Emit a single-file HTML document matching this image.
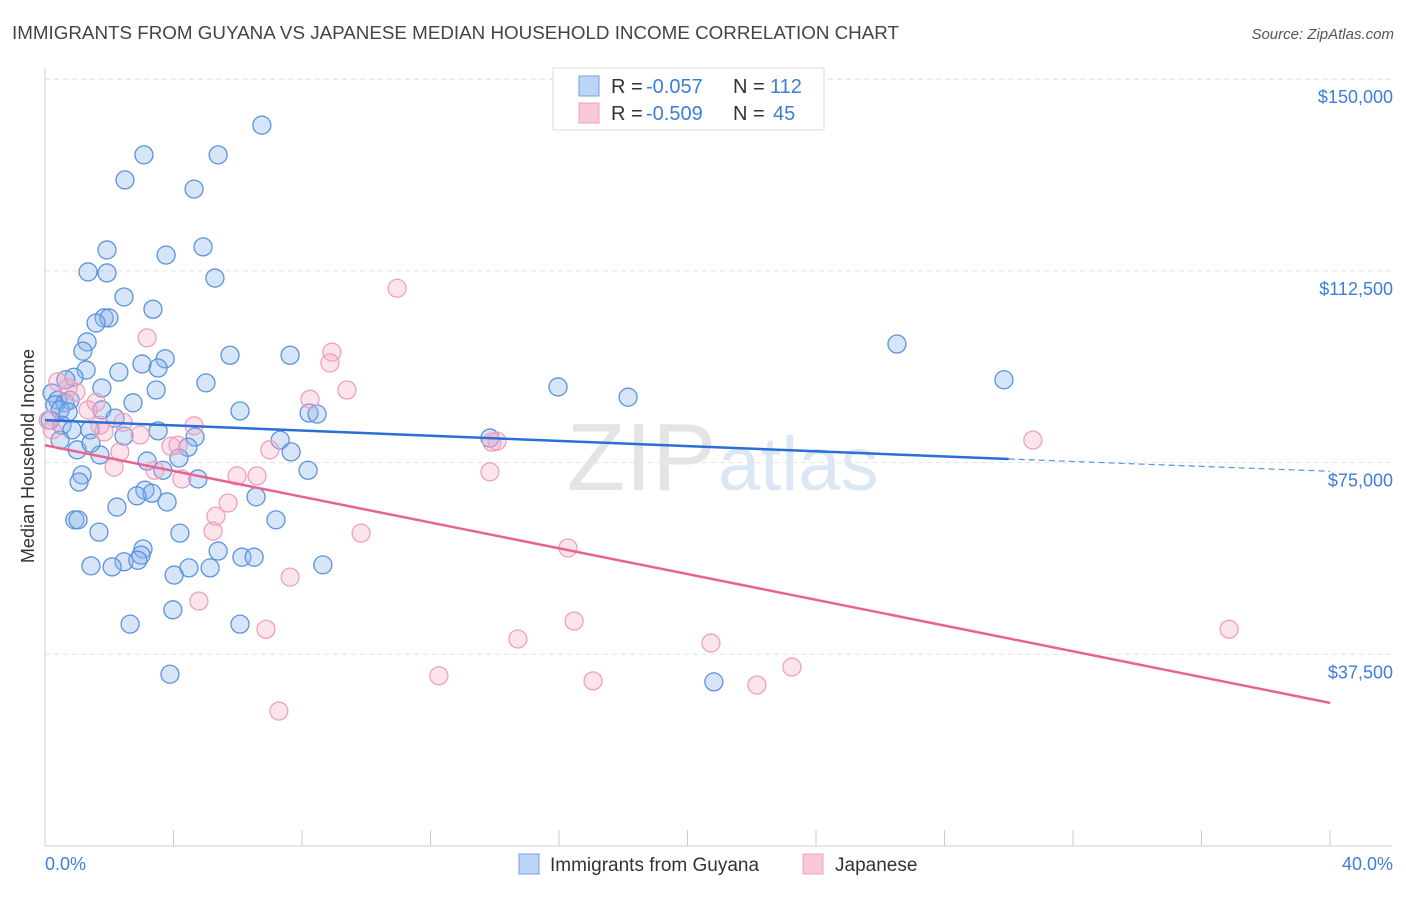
<!DOCTYPE html>
<html><head><meta charset="utf-8"><style>
body{margin:0;background:#fff;font-family:"Liberation Sans",sans-serif}
svg text{font-family:"Liberation Sans",sans-serif}
</style></head><body>
<svg id="chart" width="1406" height="892" viewBox="0 0 1406 892" xmlns="http://www.w3.org/2000/svg">
<text x="12" y="39" font-size="18" fill="#444" textLength="887" lengthAdjust="spacingAndGlyphs">IMMIGRANTS FROM GUYANA VS JAPANESE MEDIAN HOUSEHOLD INCOME CORRELATION CHART</text>
<text x="1394" y="39" font-size="15" fill="#555" font-style="italic" text-anchor="end">Source: ZipAtlas.com</text>
<g id="grid"></g>
<text x="716" y="490" font-size="96" fill="#e4e4e4" text-anchor="end" font-family="Liberation Serif">ZIP</text>
<text x="718" y="490" font-size="76" fill="#dce7f5">atlas</text>
<g id="points"></g>
<g id="trends"></g>
<text transform="translate(34,456) rotate(-90)" font-size="18" fill="#333" text-anchor="middle">Median Household Income</text>
<text x="45" y="870" font-size="18" fill="#3d7fd6">0.0%</text>
<text x="1393" y="870" font-size="18" fill="#3d7fd6" text-anchor="end">40.0%</text>
<g>
<rect x="553" y="68" width="271" height="62" fill="#fff" stroke="#ddd"/>
<rect x="579" y="76" width="20" height="20" fill="#bcd4f5" stroke="#6fa0e0"/>
<rect x="579" y="103" width="20" height="20" fill="#f9c8d8" stroke="#f0a0bc"/>
<text x="611" y="93" font-size="20" fill="#333">R =</text>
<text x="646" y="93" font-size="20" fill="#3d7fd6">-0.057</text>
<text x="733" y="93" font-size="20" fill="#333">N =</text>
<text x="770" y="93" font-size="20" fill="#3d7fd6">112</text>
<text x="611" y="120" font-size="20" fill="#333">R =</text>
<text x="646" y="120" font-size="20" fill="#3d7fd6">-0.509</text>
<text x="733" y="120" font-size="20" fill="#333">N =</text>
<text x="773" y="120" font-size="20" fill="#3d7fd6">45</text>
</g>
<g>
<rect x="519" y="854" width="20" height="20" fill="#bcd4f5" stroke="#6fa0e0"/>
<text x="550" y="871" font-size="19" fill="#333">Immigrants from Guyana</text>
<rect x="803" y="854" width="20" height="20" fill="#f9c8d8" stroke="#f0a0bc"/>
<text x="835" y="871" font-size="19" fill="#333">Japanese</text>
</g>
</svg>
<script>
const yTicks=[37500,75000,112500,150000];
const yTickLabels=["$37,500","$75,000","$112,500","$150,000"];
const xTicks=[0,4,8,12,16,20,24,28,32,36,40];
const guyanaX=[6.75,3.08,5.39,2.49,4.64,1.93,4.92,3.77,1.34,1.93,5.29,2.46,3.36,1.84,1.99,1.59,1.31,1.18,5.76,3.74,3.02,3.52,2.30,1.28,0.90,5.01,3.46,1.77,0.65,0.22,0.40,0.62,0.78,0.31,0.47,0.72,0.16,1.77,2.18,2.74,6.07,8.22,8.47,7.63,26.52,29.85,15.97,18.15,13.85,0.53,1.40,0.84,2.46,0.47,1.00,1.71,1.43,3.52,4.67,4.45,4.17,7.32,7.66,3.18,3.67,8.19,1.15,1.06,4.76,3.11,3.33,2.86,6.57,3.80,2.24,0.93,1.03,7.19,1.68,4.20,3.05,2.99,5.39,2.46,2.89,6.13,6.51,1.43,2.09,4.48,5.14,4.02,8.65,3.98,2.65,6.07,3.89,20.82];
const guyanaY=[141.0,135.2,135.2,130.3,128.5,116.6,117.2,115.6,112.3,112.1,111.1,107.4,105.0,103.3,103.3,102.3,98.6,96.8,96.0,95.3,94.3,93.5,92.7,93.1,91.7,90.6,89.2,89.6,91.2,88.6,87.2,86.7,87.2,86.3,85.3,84.9,83.3,85.3,83.7,86.7,85.1,84.7,84.5,96.0,98.2,91.2,89.8,87.8,79.8,82.3,81.4,81.4,80.2,79.4,77.5,76.5,78.8,81.2,80.0,78.0,75.9,79.4,77.1,75.3,73.5,73.5,72.6,71.2,71.8,69.6,69.0,68.5,68.3,67.3,66.3,63.8,63.8,63.8,61.4,61.2,58.1,56.9,57.7,55.6,55.9,56.5,56.5,54.8,54.6,54.4,54.4,53.0,55.0,46.2,43.4,43.4,33.6,32.1];
const japaneseX=[10.96,3.18,8.93,8.87,9.40,0.40,0.72,0.96,1.59,8.25,1.34,1.71,2.43,1.84,4.64,2.96,4.14,2.33,3.92,7.00,6.60,5.98,2.15,3.42,4.26,13.91,14.07,30.75,13.85,5.70,5.32,5.23,9.84,16.28,7.63,4.79,16.47,6.88,14.72,20.73,36.86,23.25,12.26,17.06,22.16,7.28,0.10,0.22];
const japaneseY=[109.1,99.4,96.6,94.5,89.2,90.8,89.6,88.8,86.8,87.4,85.3,82.3,82.9,81.0,82.2,80.4,78.4,77.1,78.2,77.5,72.4,72.4,74.1,73.5,71.8,79.0,79.2,79.4,73.2,67.1,64.5,61.6,61.2,58.3,52.6,47.9,44.0,42.4,40.5,39.7,42.4,35.0,33.3,32.3,31.5,26.4,83.3,81.4];
const guyanaTrend=[[0,83.3],[30,75.7],[40,73.3]];
const japaneseTrend=[[0,78.4],[40,28.0]];
const X=v=>45+v/40*1285;
const Y=v=>846-v/37.5*191.7;
const NS="http://www.w3.org/2000/svg";
function mk(t,a,p){const e=document.createElementNS(NS,t);for(const k in a)e.setAttribute(k,a[k]);p.appendChild(e);return e;}
const grid=document.getElementById('grid');
mk('line',{x1:45,y1:68,x2:45,y2:846,stroke:'#ccc'},grid);
mk('line',{x1:45,y1:846,x2:1392,y2:846,stroke:'#ccc'},grid);
yTicks.forEach((t,i)=>{
 const l=mk('line',{x1:45,y1:Y(t/1000),x2:1392,y2:Y(t/1000),stroke:'#e2e2e2','stroke-dasharray':'5,4'},grid);
 
 
 const tx=mk('text',{x:1393,y:Y(t/1000)+24,'font-size':18,fill:'#3d7fd6','text-anchor':'end'},grid);
 tx.textContent=yTickLabels[i];
 
 
});
mk('line',{x1:45,y1:79,x2:1392,y2:79,stroke:'#e2e2e2','stroke-dasharray':'5,4'},grid);
xTicks.forEach(t=>{
 const l=mk('line',{x1:X(t),y1:830,x2:X(t),y2:846,stroke:'#ccc'},grid);
 
 
});
const pts=document.getElementById('points');
guyanaX.forEach((x,i)=>{
 const c=mk('circle',{cx:X(x),cy:Y(guyanaY[i]),r:9,fill:'rgba(140,180,235,0.35)',stroke:'#5b93de','stroke-width':1.3},pts);
 
 
});
japaneseX.forEach((x,i)=>{
 const c=mk('circle',{cx:X(x),cy:Y(japaneseY[i]),r:9,fill:'rgba(245,165,195,0.3)',stroke:'#f0a0bc','stroke-width':1.3},pts);
 
 
});
const tr=document.getElementById('trends');
let l=mk('line',{x1:X(guyanaTrend[0][0]),y1:Y(guyanaTrend[0][1]),x2:X(guyanaTrend[1][0]),y2:Y(guyanaTrend[1][1]),stroke:'#2a6fd6','stroke-width':2.5},tr);


l=mk('line',{x1:X(guyanaTrend[1][0]),y1:Y(guyanaTrend[1][1]),x2:X(guyanaTrend[2][0]),y2:Y(guyanaTrend[2][1]),stroke:'#5b93de','stroke-width':1.2,'stroke-dasharray':'6,4'},tr);


l=mk('line',{x1:X(japaneseTrend[0][0]),y1:Y(japaneseTrend[0][1]),x2:X(japaneseTrend[1][0]),y2:Y(japaneseTrend[1][1]),stroke:'#e8648f','stroke-width':2.5},tr);


</script>
</body></html>
